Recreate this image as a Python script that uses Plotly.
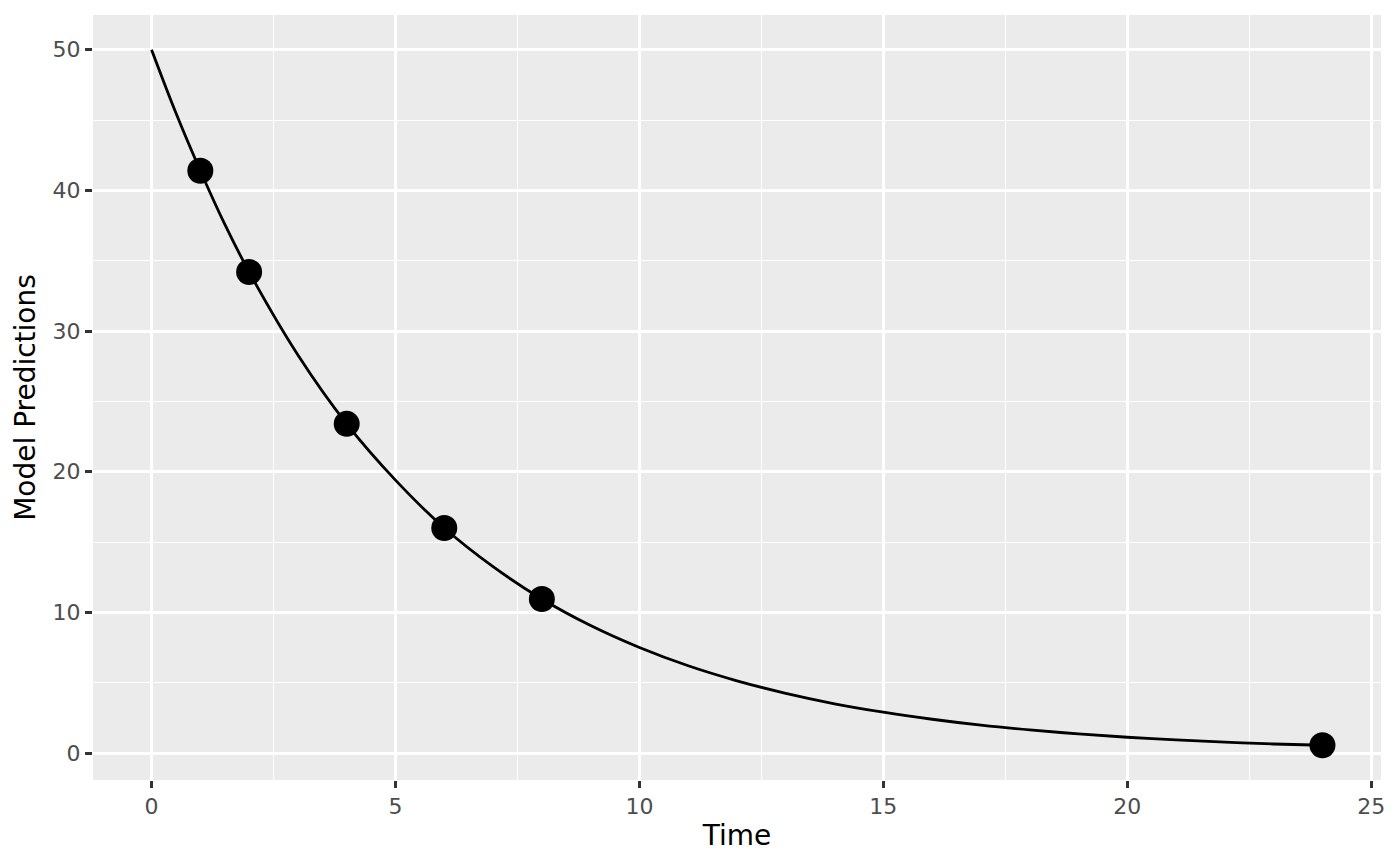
import plotly.graph_objects as go

# observed concentrations
obs_time = [1, 2, 4, 6, 8, 24]
obs_pred = [41.4, 34.2, 23.4, 16.0, 10.95, 0.55]

# model curve
curve_time = [0, 0.5, 1, 1.5, 2, 3, 4, 5, 6, 7, 8, 9, 10, 11, 12, 13, 14, 15,
              16, 17, 18, 19, 20, 21, 22, 23, 24]
curve_pred = [50.0, 45.5, 41.4, 37.6, 34.2, 28.3, 23.4, 19.4, 16.0, 13.25, 10.95,
              9.06, 7.5, 6.2, 5.13, 4.24, 3.5, 2.9, 2.4, 1.98, 1.64, 1.36, 1.12,
              0.93, 0.77, 0.64, 0.55]

x_ticks = [0, 5, 10, 15, 20, 25]
y_ticks = [0, 10, 20, 30, 40, 50]

fig = go.Figure()
fig.add_trace(go.Scatter(
    x=curve_time, y=curve_pred, mode="lines",
    line=dict(color="black", width=2.8, shape="spline"),
    hoverinfo="skip",
))
fig.add_trace(go.Scatter(
    x=obs_time, y=obs_pred, mode="markers",
    marker=dict(color="black", size=26),
))

axis_common = dict(
    showgrid=True, gridcolor="white", gridwidth=2.6,
    zeroline=False, showline=False,
    ticks="outside", ticklen=7, tickwidth=2.6, tickcolor="#333333",
    tickfont=dict(size=22, color="#4D4D4D"),
)
fig.update_xaxes(
    range=[-1.2, 25.2], tickvals=x_ticks,
    minor=dict(dtick=2.5, tick0=0, showgrid=True, gridcolor="white", gridwidth=1.3, ticks=""),
    title=dict(text="Time", font=dict(size=28, color="black"), standoff=6),
    **axis_common,
)
fig.update_yaxes(
    range=[-1.92, 52.47], tickvals=y_ticks,
    minor=dict(dtick=5, tick0=0, showgrid=True, gridcolor="white", gridwidth=1.3, ticks=""),
    title=dict(text="Model Predictions", font=dict(size=28, color="black"), standoff=8),
    **axis_common,
)
# page body has an 8px margin, so the figure is sized to fit inside it
fig.update_layout(
    width=1384, height=849,
    margin=dict(l=85, r=7, t=7, b=77),
    plot_bgcolor="#EBEBEB", paper_bgcolor="white",
    font=dict(family="DejaVu Sans"),
    showlegend=False,
)
fig.write_html("out.html")
